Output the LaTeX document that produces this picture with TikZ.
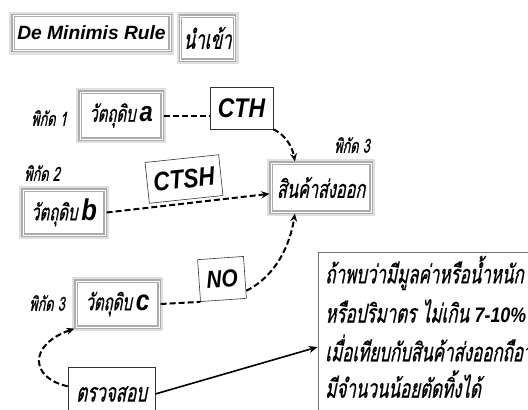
\documentclass[tikz,border=0pt]{standalone}
\usepackage{fontspec}
\setmainfont{Liberation Sans}
\newfontfamily\thai[Script=Thai,FakeSlant=0.2,FakeStretch=0.65,FakeBold=0.6]{Loma}
\newfontfamily\latc[FakeStretch=0.85]{Liberation Sans}
\usetikzlibrary{arrows.meta}
\tikzset{
  gbox/.style={draw=gray!65, line width=3.2pt, fill=white, inner sep=0pt,
    preaction={fill=none, draw=gray!25, line width=8pt},
    postaction={fill=none, draw=white, line width=0.6pt}},
  pbox/.style={draw=black!80, line width=0.6pt, fill=white, inner sep=0pt},
  lbl/.style={inner sep=0pt, font=\thai\fontsize{19.5}{19.5}\selectfont},
  dline/.style={line width=2pt, dash pattern=on 6pt off 3pt},
  darr/.style={dline, -{Stealth[length=8pt,width=7pt]}},
  sarr/.style={line width=1.6pt, -{Stealth[length=9pt,width=7pt]}},
  big/.style={font=\latc\bfseries\itshape\fontsize{#1}{#1}\selectfont}
}
\begin{document}
\begin{tikzpicture}[x=1pt,y=-1pt]
\useasboundingbox (0,0) rectangle (528,410);
\clip (0,0) rectangle (528,410);
% top boxes
\node[gbox, minimum width=157pt, minimum height=35pt, font=\bfseries\itshape\fontsize{19.2}{19.2}\selectfont] (dm) at (91.5,33) {De Minimis Rule};
\node[gbox, minimum width=54pt, minimum height=44pt, font=\thai\fontsize{26}{26}\selectfont] (imp) at (207.5,38) {นำเข้า};
% materials
\node[gbox, minimum width=82pt, minimum height=47pt] (ma) at (121,115.5) {{\thai\fontsize{23}{23}\selectfont วัตถุดิบ}\hspace{4pt}{\latc\bfseries\itshape\fontsize{28}{28}\selectfont a}};
\node[lbl] (la) at (49,118) {พิกัด 1};
\node[gbox, minimum width=82pt, minimum height=45pt] (mb) at (64,212.5) {{\thai\fontsize{23}{23}\selectfont วัตถุดิบ}\hspace{4pt}{\latc\bfseries\itshape\fontsize{30}{30}\selectfont b}};
\node[lbl] (lb) at (42,173) {พิกัด 2};
\node[gbox, minimum width=83pt, minimum height=46pt] (mc) at (117.5,304) {{\thai\fontsize{23}{23}\selectfont วัตถุดิบ}\hspace{4pt}{\latc\bfseries\itshape\fontsize{29}{29}\selectfont c}};
\node[lbl] (lc) at (47,303) {พิกัด 3};
% export
\node[gbox, minimum width=100pt, minimum height=49pt, font=\thai\fontsize{25}{25}\selectfont] (exp) at (321,187.5) {สินค้าส่งออก};
\node[lbl] (le) at (352,145) {พิกัด 3};
% rules
\node[pbox, minimum width=63pt, minimum height=42pt, font=\latc\bfseries\itshape\fontsize{27}{27}\selectfont] (cth) at (241.5,108) {CTH};
\node[pbox, minimum width=74pt, minimum height=41pt, rotate=6, big=26.5] (ctsh) at (184,179) {CTSH};
\node[pbox, minimum width=46pt, minimum height=42pt, rotate=4, big=24.5] (no) at (222,279) {NO};
% check
\node[pbox, minimum width=87pt, minimum height=54pt, font=\thai\fontsize{26}{26}\selectfont] (chk) at (111.5,394) {ตรวจสอบ};
% text box
\node[pbox, draw=black!55, minimum width=242pt, minimum height=190pt] (tb) at (439,347) {};
\begin{scope}[every node/.style={anchor=west, inner sep=0pt, font=\thai\fontsize{26}{26}\selectfont}]
\node (t1) at (325,273) {ถ้าพบว่ามีมูลค่าหรือน้ำหนัก};
\node (t2) at (325,311) {หรือปริมาตร ไม่เกิน {\latc\bfseries\itshape\fontsize{21}{21}\selectfont 7-10\%}};
\node (t3) at (325,348) {เมื่อเทียบกับสินค้าส่งออกถือว่า};
\node (t4) at (325,384) {มีจำนวนน้อยตัดทิ้งได้};
\end{scope}
% connectors
\draw[dline] (ma.east) -- (ma.east -| cth.west);
\draw[darr] (cth.south east) .. controls (284,134) and (292,145) .. (exp.135);
\draw[darr] (mb.east) -- (exp.187);
\draw[dline] (mc.east) -- (no.south west);
\draw[darr] (no.-30) .. controls (276,276) and (290,245) .. (exp.-135);
\draw[darr] (chk.170) .. controls (30,378) and (28,345) .. (mc.south west);
\draw[sarr] (chk.east) -- (tb.west);
\end{tikzpicture}
\end{document}
